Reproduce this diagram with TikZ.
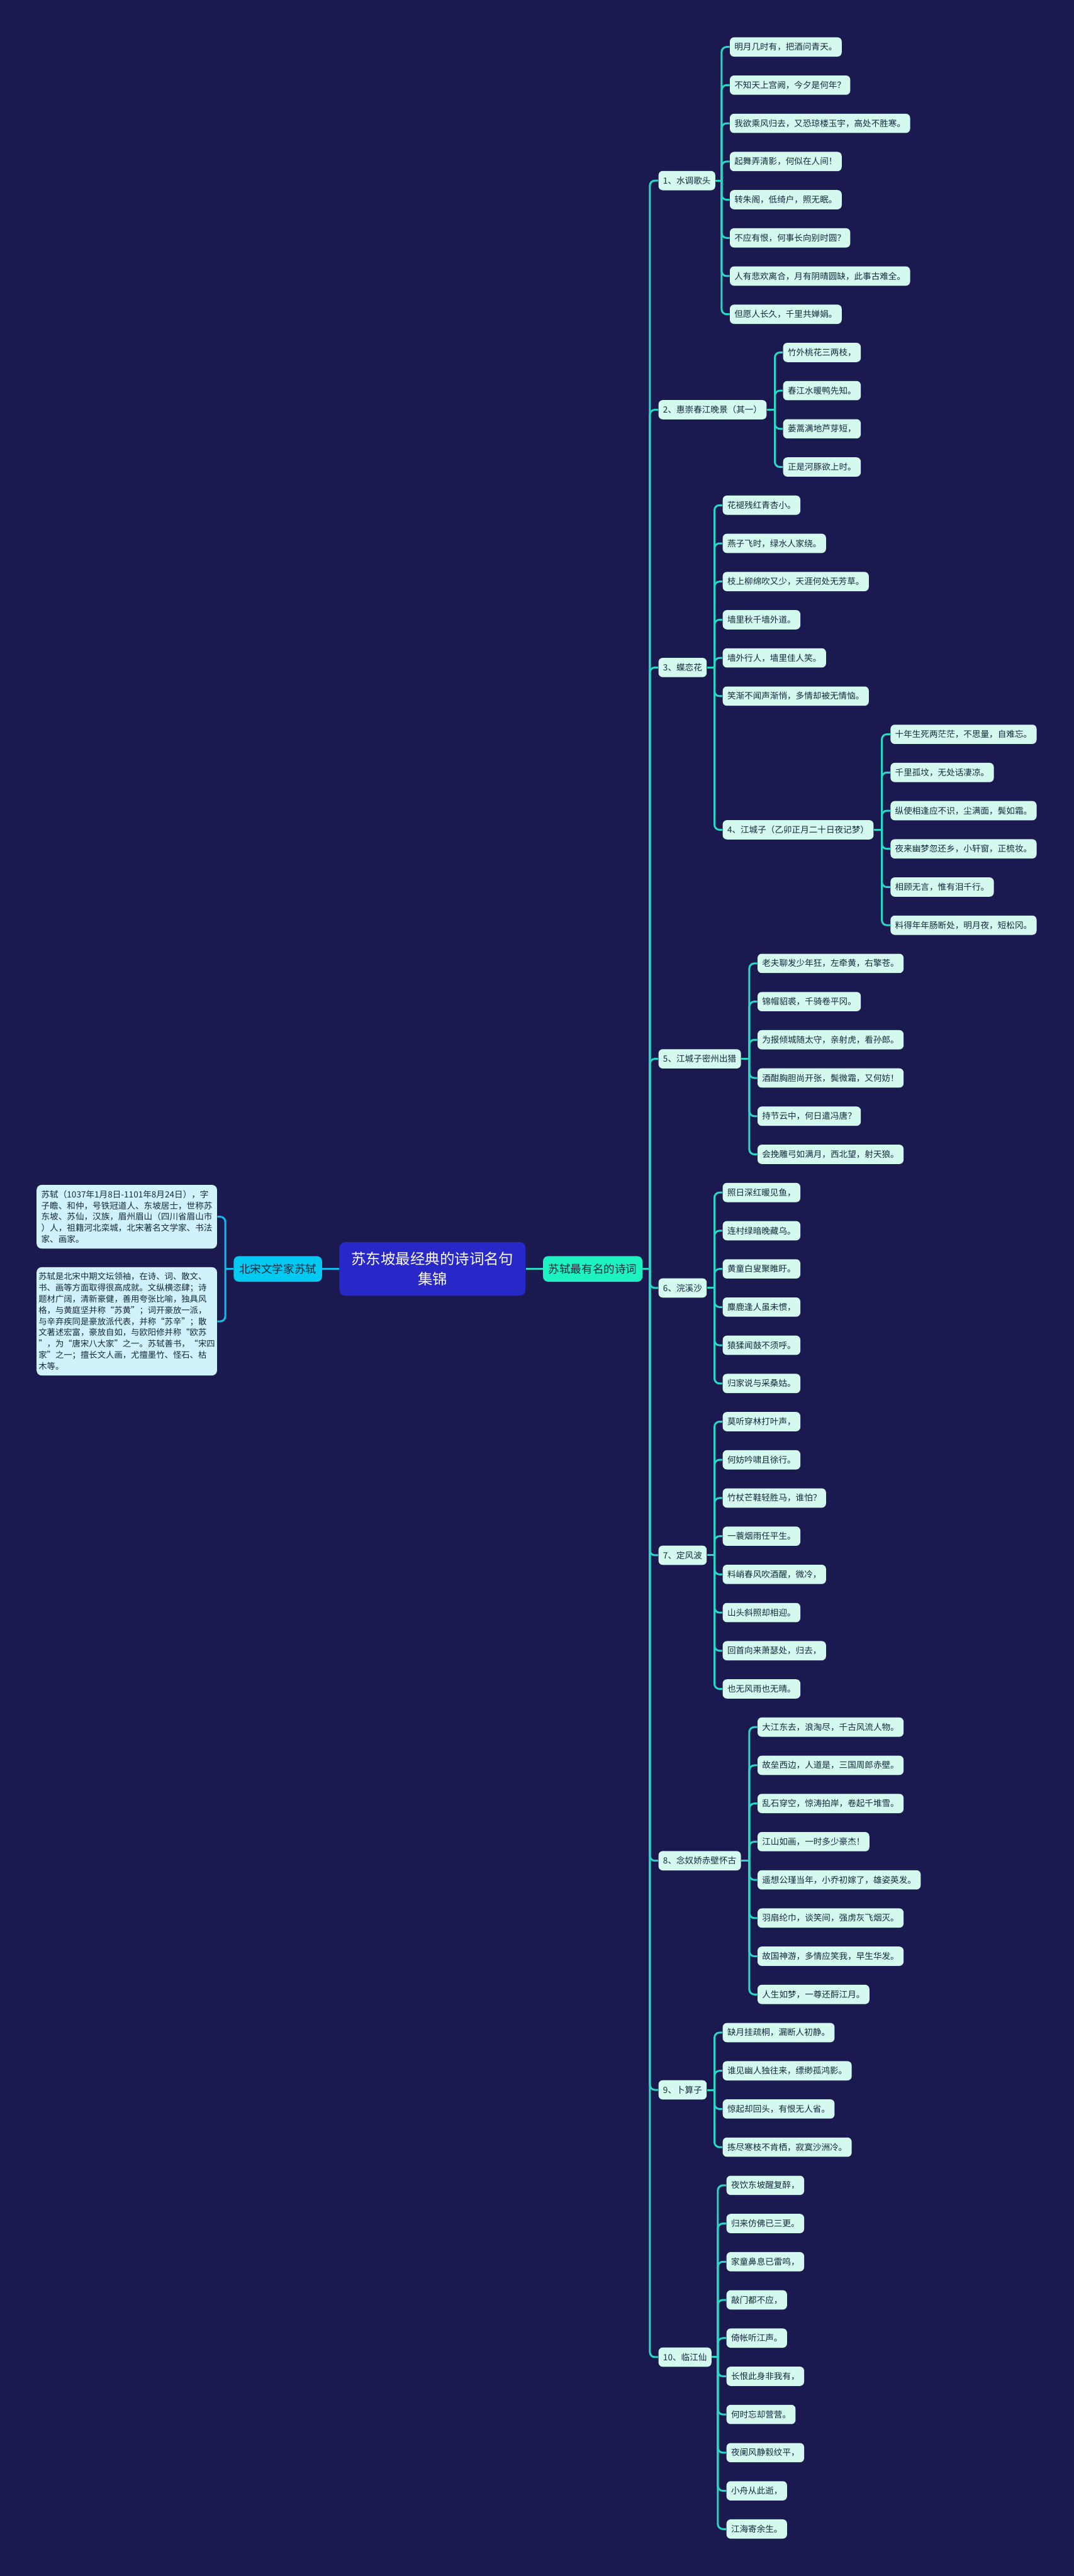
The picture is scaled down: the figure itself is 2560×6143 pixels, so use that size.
\documentclass[tikz,border=0pt]{standalone}
\usepackage{fontspec}
\setmainfont{Noto Sans CJK SC}
\usepackage{tikz}
\usetikzlibrary{positioning}
\definecolor{NightBg}{HTML}{1A1A50}
\definecolor{RootBlue}{HTML}{2828C8}
\definecolor{PoetCyan}{HTML}{00C9F2}
\definecolor{PoemMint}{HTML}{1CF2C2}
\definecolor{LeafMint}{HTML}{D4FAF0}
\definecolor{DescCyan}{HTML}{D0F2FA}
\definecolor{LineTeal}{HTML}{2AD6C4}
\definecolor{LineCyan}{HTML}{12B9E9}
\definecolor{TextDark}{HTML}{15283A}

\begin{document}
\begin{tikzpicture}[x=0.1mm, y=-0.1mm,
  every node/.style={text=TextDark, inner ysep=0pt},
  leaf/.style={fill=LeafMint, rounded corners=1mm, anchor=west, minimum height=4.6mm, inner xsep=1.1mm, font=\fontsize{5.8pt}{7pt}\selectfont},
  branch/.style={leaf},
  midbox/.style={rounded corners=1.2mm, minimum height=6.1mm, inner xsep=1.3mm, font=\fontsize{7.5pt}{9pt}\selectfont},
  desc/.style={fill=DescCyan, rounded corners=1.2mm, anchor=east, align=left, minimum width=43mm, inner xsep=0.9mm, inner ysep=1.3mm, font=\fontsize{5.8pt}{7.6pt}\selectfont},
  conn/.style={draw=LineTeal, line width=0.45mm, rounded corners=1.2mm},
  lconn/.style={conn, draw=LineCyan}]
  \fill[NightBg] (0,0) rectangle (2560,6143);

  % centre and the two sides
  \node[fill=RootBlue, text=white, rounded corners=1.5mm, align=center, minimum width=44.4mm, minimum height=12.8mm, font=\fontsize{10pt}{13.4pt}\selectfont] (root) at (1031,3026) {苏东坡最经典的诗词名句\\集锦};
  \node[midbox, fill=PoetCyan, left=4mm of root] (poet) {北宋文学家苏轼};
  \node[midbox, fill=PoemMint, right=4mm of root] (poems) {苏轼最有名的诗词};
  \draw[lconn] (root) -- (poet);
  \draw[conn] (root) -- (poems);

  \node[desc] (bio) at (518,2901.5) {苏轼（1037年1月8日-1101年8月24日），字\\子瞻、和仲，号铁冠道人、东坡居士，世称苏\\东坡、苏仙，汉族，眉州眉山（四川省眉山市\\）人，祖籍河北栾城，北宋著名文学家、书法\\家、画家。};
  \node[desc, inner xsep=0.4mm, font=\fontsize{5.7pt}{7.6pt}\selectfont] (fame) at (518,3151) {苏轼是北宋中期文坛领袖，在诗、词、散文、\\书、画等方面取得很高成就。文纵横恣肆；诗\\题材广阔，清新豪健，善用夸张比喻，独具风\\格，与黄庭坚并称“苏黄”；词开豪放一派，\\与辛弃疾同是豪放派代表，并称“苏辛”；散\\文著述宏富，豪放自如，与欧阳修并称“欧苏\\”，为“唐宋八大家”之一。苏轼善书，“宋四\\家”之一；擅长文人画，尤擅墨竹、怪石、枯\\木等。};
  \coordinate (lj) at (537,3026);
  \draw[lconn] (poet.west) -- (lj);
  \draw[lconn] (lj) |- (bio.east);
  \draw[lconn] (lj) |- (fame.east);

  % poems
  \node[branch] (s1) at (1569,430.7) {1、水调歌头};
  \foreach \t [count=\i from 0] in {明月几时有，把酒问青天。, 不知天上宫阙，今夕是何年？, 我欲乘风归去，又恐琼楼玉宇，高处不胜寒。, 起舞弄清影，何似在人间！, 转朱阁，低绮户，照无眠。, 不应有恨，何事长向别时圆？, 人有悲欢离合，月有阴晴圆缺，此事古难全。, 但愿人长久，千里共婵娟。}
    \node[leaf] (l\i) at (1739,{112+91.06*\i}) {\t};

  \node[branch] (s2) at (1569,977.1) {2、惠崇春江晚景（其一）};
  \foreach \t [count=\i from 8] in {竹外桃花三两枝，, 春江水暖鸭先知。, 蒌蒿满地芦芽短，, 正是河豚欲上时。}
    \node[leaf] (l\i) at (1866,{112+91.06*\i}) {\t};

  \node[branch] (s3) at (1569,1591.8) {3、蝶恋花};
  \foreach \t [count=\i from 12] in {花褪残红青杏小。, 燕子飞时，绿水人家绕。, 枝上柳绵吹又少，天涯何处无芳草。, 墙里秋千墙外道。, 墙外行人，墙里佳人笑。, 笑渐不闻声渐悄，多情却被无情恼。}
    \node[leaf] (l\i) at (1722,{112+91.06*\i}) {\t};

  \node[branch] (s4) at (1722,1978.8) {4、江城子（乙卯正月二十日夜记梦）};
  \foreach \t [count=\i from 18] in {十年生死两茫茫，不思量，自难忘。, 千里孤坟，无处话凄凉。, 纵使相逢应不识，尘满面，鬓如霜。, 夜来幽梦忽还乡，小轩窗，正梳妆。, 相顾无言，惟有泪千行。, 料得年年肠断处，明月夜，短松冈。}
    \node[leaf] (l\i) at (2122,{112+91.06*\i}) {\t};

  \node[branch] (s5) at (1569,2525) {5、江城子密州出猎};
  \foreach \t [count=\i from 24] in {老夫聊发少年狂，左牵黄，右擎苍。, 锦帽貂裘，千骑卷平冈。, 为报倾城随太守，亲射虎，看孙郎。, 酒酣胸胆尚开张，鬓微霜，又何妨！, 持节云中，何日遣冯唐？, 会挽雕弓如满月，西北望，射天狼。}
    \node[leaf] (l\i) at (1805,{112+91.06*\i}) {\t};

  \node[branch] (s6) at (1569,3071.4) {6、浣溪沙};
  \foreach \t [count=\i from 30] in {照日深红暖见鱼，, 连村绿暗晚藏乌。, 黄童白叟聚睢盱。, 麋鹿逢人虽未惯，, 猿猱闻鼓不须呼。, 归家说与采桑姑。}
    \node[leaf] (l\i) at (1722,{112+91.06*\i}) {\t};

  \node[branch] (s7) at (1569,3708.8) {7、定风波};
  \foreach \t [count=\i from 36] in {莫听穿林打叶声，, 何妨吟啸且徐行。, 竹杖芒鞋轻胜马，谁怕？, 一蓑烟雨任平生。, 料峭春风吹酒醒，微冷，, 山头斜照却相迎。, 回首向来萧瑟处，归去，, 也无风雨也无晴。}
    \node[leaf] (l\i) at (1722,{112+91.06*\i}) {\t};

  \node[branch] (s8) at (1569,4437.3) {8、念奴娇赤壁怀古};
  \foreach \t [count=\i from 44] in {大江东去，浪淘尽，千古风流人物。, 故垒西边，人道是，三国周郎赤壁。, 乱石穿空，惊涛拍岸，卷起千堆雪。, 江山如画，一时多少豪杰！, 遥想公瑾当年，小乔初嫁了，雄姿英发。, 羽扇纶巾，谈笑间，强虏灰飞烟灭。, 故国神游，多情应笑我，早生华发。, 人生如梦，一尊还酹江月。}
    \node[leaf] (l\i) at (1805,{112+91.06*\i}) {\t};

  \node[branch] (s9) at (1569,4983.7) {9、卜算子};
  \foreach \t [count=\i from 52] in {缺月挂疏桐，漏断人初静。, 谁见幽人独往来，缥缈孤鸿影。, 惊起却回头，有恨无人省。, 拣尽寒枝不肯栖，寂寞沙洲冷。}
    \node[leaf] (l\i) at (1722,{112+91.06*\i}) {\t};

  \node[branch] (s10) at (1569,5621) {10、临江仙};
  \foreach \t [count=\i from 56] in {夜饮东坡醒复醉，, 归来仿佛已三更。, 家童鼻息已雷鸣，, 敲门都不应，, 倚帐听江声。, 长恨此身非我有，, 何时忘却营营。, 夜阑风静縠纹平，, 小舟从此逝，, 江海寄余生。}
    \node[leaf] (l\i) at (1731,{112+91.06*\i}) {\t};

  % trunk
  \coordinate (tr) at (1549,3026);
  \draw[conn] (poems.east) -- (tr);
  \foreach \b in {s1,s2,s3,s5,s6,s7,s8,s9,s10}
    \draw[conn] (tr) |- (\b.west);

  % branch joints
  \coordinate (j1) at (1720,430.7);
  \coordinate (j2) at (1847,977.1);
  \coordinate (j3) at (1703,1591.8);
  \coordinate (j4) at (2102,1978.8);
  \coordinate (j5) at (1786,2525);
  \coordinate (j6) at (1703,3071.4);
  \coordinate (j7) at (1703,3708.8);
  \coordinate (j8) at (1786,4437.3);
  \coordinate (j9) at (1703,4983.7);
  \coordinate (j10) at (1711,5621);
  \foreach \b in {1,...,10}
    \draw[conn] (s\b.east) -- (j\b);
  \foreach \i in {0,...,7} \draw[conn] (j1) |- (l\i.west);
  \foreach \i in {8,...,11} \draw[conn] (j2) |- (l\i.west);
  \foreach \i in {12,...,17} \draw[conn] (j3) |- (l\i.west);
  \draw[conn] (j3) |- (s4.west);
  \foreach \i in {18,...,23} \draw[conn] (j4) |- (l\i.west);
  \foreach \i in {24,...,29} \draw[conn] (j5) |- (l\i.west);
  \foreach \i in {30,...,35} \draw[conn] (j6) |- (l\i.west);
  \foreach \i in {36,...,43} \draw[conn] (j7) |- (l\i.west);
  \foreach \i in {44,...,51} \draw[conn] (j8) |- (l\i.west);
  \foreach \i in {52,...,55} \draw[conn] (j9) |- (l\i.west);
  \foreach \i in {56,...,65} \draw[conn] (j10) |- (l\i.west);
\end{tikzpicture}
\end{document}
